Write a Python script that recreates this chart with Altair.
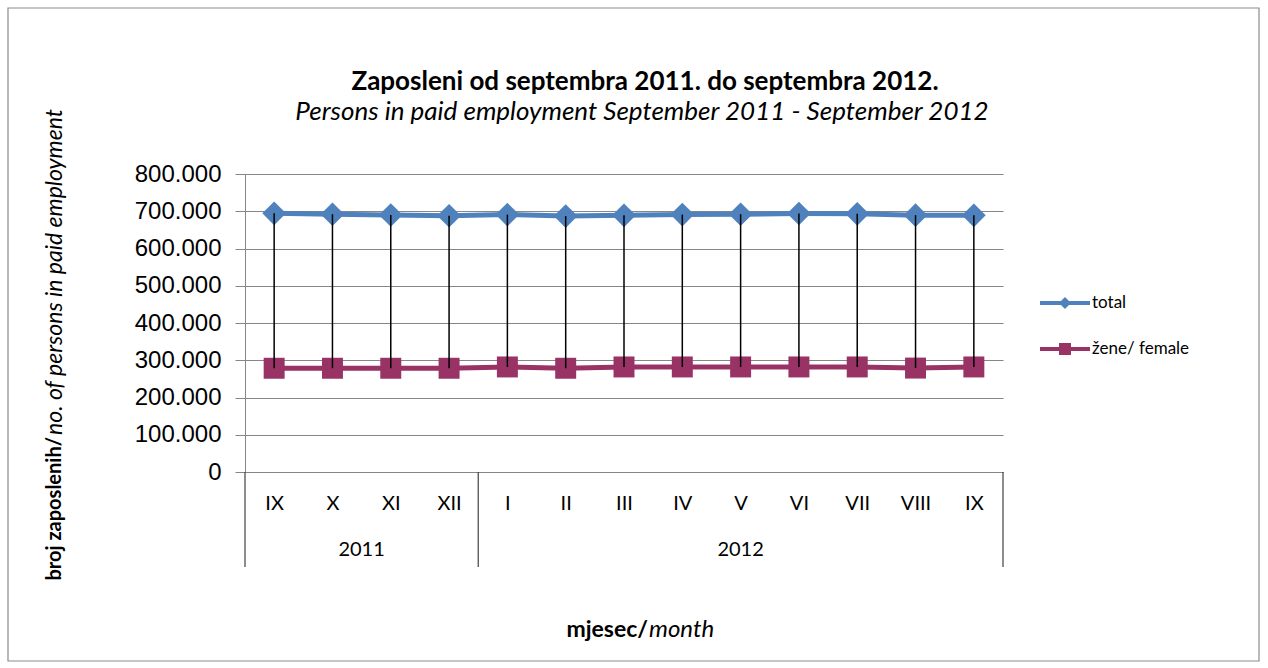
import altair as alt
import pandas as pd

# ---- data ----
months = ["IX", "X", "XI", "XII", "I", "II", "III", "IV", "V", "VI", "VII", "VIII", "IX"]
years = ["2011", "2012"]
months_per_year = [4, 9]
total = [694500, 692000, 690000, 688000, 691000, 687000, 689000, 691000, 692000, 694000, 693000, 689500, 689000]
female = [278500, 278500, 278500, 278500, 282000, 278500, 282000, 282000, 282000, 282000, 282000, 279000, 282000]
series_names = ["total", "žene/ female"]
series_colors = ["#4F81BD", "#993366"]
series_shapes = ["diamond", "square"]
series_sizes = [560, 440]
y_ticks = [0, 100000, 200000, 300000, 400000, 500000, 600000, 700000, 800000]

title_text = "Zaposleni od septembra 2011. do septembra 2012."
subtitle_text = "Persons in paid employment  September 2011 - September 2012"
ytitle_bold = "broj  zaposlenih/ "
ytitle_italic = "no. of  persons  in paid employment"
xtitle_bold = "mjesec/"
xtitle_italic = "month"

# ---- tables ----
pos = [i + 0.5 for i in range(len(months))]
long_df = pd.DataFrame({
    "pos": pos * 2,
    "value": total + female,
    "series": [series_names[0]] * len(months) + [series_names[1]] * len(months),
})
wide_df = pd.DataFrame({"pos": pos, "total": total, "female": female})

bounds = [0]
for n in months_per_year:
    bounds.append(bounds[-1] + n)
year_df = pd.DataFrame({
    "year": years,
    "center": [(bounds[i] + bounds[i + 1]) / 2 for i in range(len(years))],
})
bound_df = pd.DataFrame({"b": bounds})
one = pd.DataFrame({"a": [0]})

W, H = 758, 298
month_expr = "[" + ",".join("'%s'" % m for m in months) + "][floor(datum.value)]"

xscale = alt.Scale(domain=[0, len(months)], nice=False, zero=False)
yscale = alt.Scale(domain=[0, 800000], nice=False)
cscale = alt.Scale(domain=series_names, range=series_colors)

x_axis = alt.Axis(
    values=pos, labelExpr=month_expr, ticks=False, grid=False, title=None,
    domainColor="#868686", labelFont="Lato", labelFontSize=20, labelColor="black",
    labelPadding=31, labelBaseline="middle", labelAngle=0,
)
y_axis = alt.Axis(
    values=y_ticks, labelExpr="replace(format(datum.value, ','), ',', '.')",
    title=None, domainColor="#868686", tickColor="#868686", tickSize=10,
    gridColor="#868686", gridWidth=1, labelFont="Liberation Sans", labelFontSize=24,
    labelColor="black", labelPadding=14, labelOverlap=False,
)

legend_total = ("M-1.667,-0.133L-0.267,-0.133L0,-0.4L0.267,-0.133L1.667,-0.133"
                "L1.667,0.133L0.267,0.133L0,0.4L-0.267,0.133L-1.667,0.133Z")
legend_female = ("M-1.667,-0.133L-0.4,-0.133L-0.4,-0.4L0.4,-0.4L0.4,-0.133L1.667,-0.133"
                 "L1.667,0.133L0.4,0.133L0.4,0.4L-0.4,0.4L-0.4,0.133L-1.667,0.133Z")

legend = alt.Legend(
    title=None, orient="none", legendX=805, legendY=114, padding=0,
    symbolSize=900, symbolStrokeWidth=0, labelFont="Lato", labelFontSize=17,
    labelColor="black", labelOffset=12, rowPadding=23, labelLimit=300,
    symbolType=alt.ExprRef(expr="datum.value === '%s' ? '%s' : '%s'" % (series_names[0], legend_total, legend_female)),
)

border = alt.Chart(one).mark_rect(fill=None, stroke="#8c8c8c", strokeWidth=1.2).encode(
    x=alt.value(-237), x2=alt.value(1014), y=alt.value(-166), y2=alt.value(487)
)

lines = alt.Chart(long_df).mark_line(strokeWidth=5).encode(
    x=alt.X("pos:Q", scale=xscale, axis=x_axis),
    y=alt.Y("value:Q", scale=yscale, axis=y_axis),
    color=alt.Color("series:N", scale=cscale, legend=legend),
    detail="series:N",
)

point_layers = []
for name, shp, sz in zip(series_names, series_shapes, series_sizes):
    point_layers.append(
        alt.Chart(long_df).transform_filter(alt.datum.series == name)
        .mark_point(filled=True, opacity=1, strokeWidth=0, shape=shp, size=sz)
        .encode(
            x=alt.X("pos:Q", scale=xscale, axis=x_axis),
            y=alt.Y("value:Q", scale=yscale, axis=y_axis),
            color=alt.Color("series:N", scale=cscale, legend=legend),
        )
    )

hilo = alt.Chart(wide_df).mark_rule(color="black", strokeWidth=1.5).encode(
    x=alt.X("pos:Q", scale=xscale, axis=x_axis),
    y=alt.Y("total:Q", scale=yscale, axis=y_axis),
    y2="female:Q",
)

seps = alt.Chart(bound_df).mark_rule(color="#404040", strokeWidth=1.2).encode(
    x=alt.X("b:Q", scale=xscale, axis=x_axis),
    y=alt.value(H),
    y2=alt.value(H + 95),
)

year_text = alt.Chart(year_df).mark_text(font="Lato", fontSize=20, color="black", baseline="middle").encode(
    x=alt.X("center:Q", scale=xscale, axis=x_axis),
    y=alt.value(H + 78),
    text="year:N",
)

def label(text, x, y, **kw):
    return alt.Chart(one).mark_text(color="black", font="Lato", baseline="middle", **kw).encode(
        x=alt.value(x), y=alt.value(y), text=alt.value(text)
    )

title = label(title_text, 400, -92, fontSize=26, fontWeight="bold", align="center")
subtitle = label(subtitle_text, 397, -62, fontSize=26, fontStyle="italic", align="center")
xt_b = label(xtitle_bold, 403, 456, fontSize=23, fontWeight="bold", align="right")
xt_i = label(xtitle_italic, 404, 456, fontSize=24, fontStyle="italic", align="left")
yt_b = label(ytitle_bold, -190, 263, fontSize=20, fontWeight="bold", align="right", angle=270)
yt_i = label(ytitle_italic, -190, 261, fontSize=23, fontStyle="italic", align="left", angle=270)

chart = alt.layer(
    border, lines, *point_layers, hilo, seps, year_text, title, subtitle, xt_b, xt_i, yt_b, yt_i
).properties(
    width=W, height=H, autosize="none",
    padding={"left": 245, "top": 174, "right": 1268 - 245 - W, "bottom": 668 - 174 - H},
    background="white",
).configure_view(stroke=None)

chart.save("out.html", embed_options={"renderer": "svg", "actions": False})
